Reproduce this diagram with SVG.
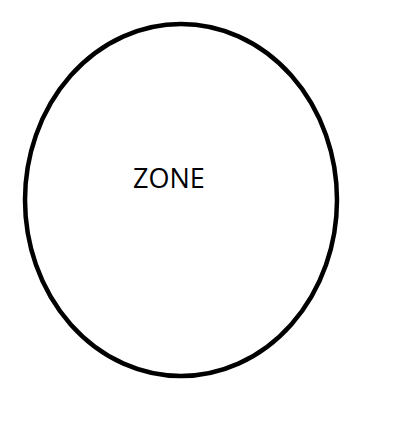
<svg xmlns="http://www.w3.org/2000/svg" width="410" height="437" viewBox="0 0 410 437">
<style>
.zone{fill:none;stroke:#000;stroke-width:4.5}
.lbl{font-family:"Open Sans","Noto Sans",sans-serif;font-size:27px;fill:#000}
</style>
<rect width="410" height="437" fill="#fff"/>
<g id="zone">
<ellipse class="zone" cx="181" cy="200" rx="156" ry="176"/>
<text class="lbl" x="133" y="188">ZONE</text>
</g>
</svg>
